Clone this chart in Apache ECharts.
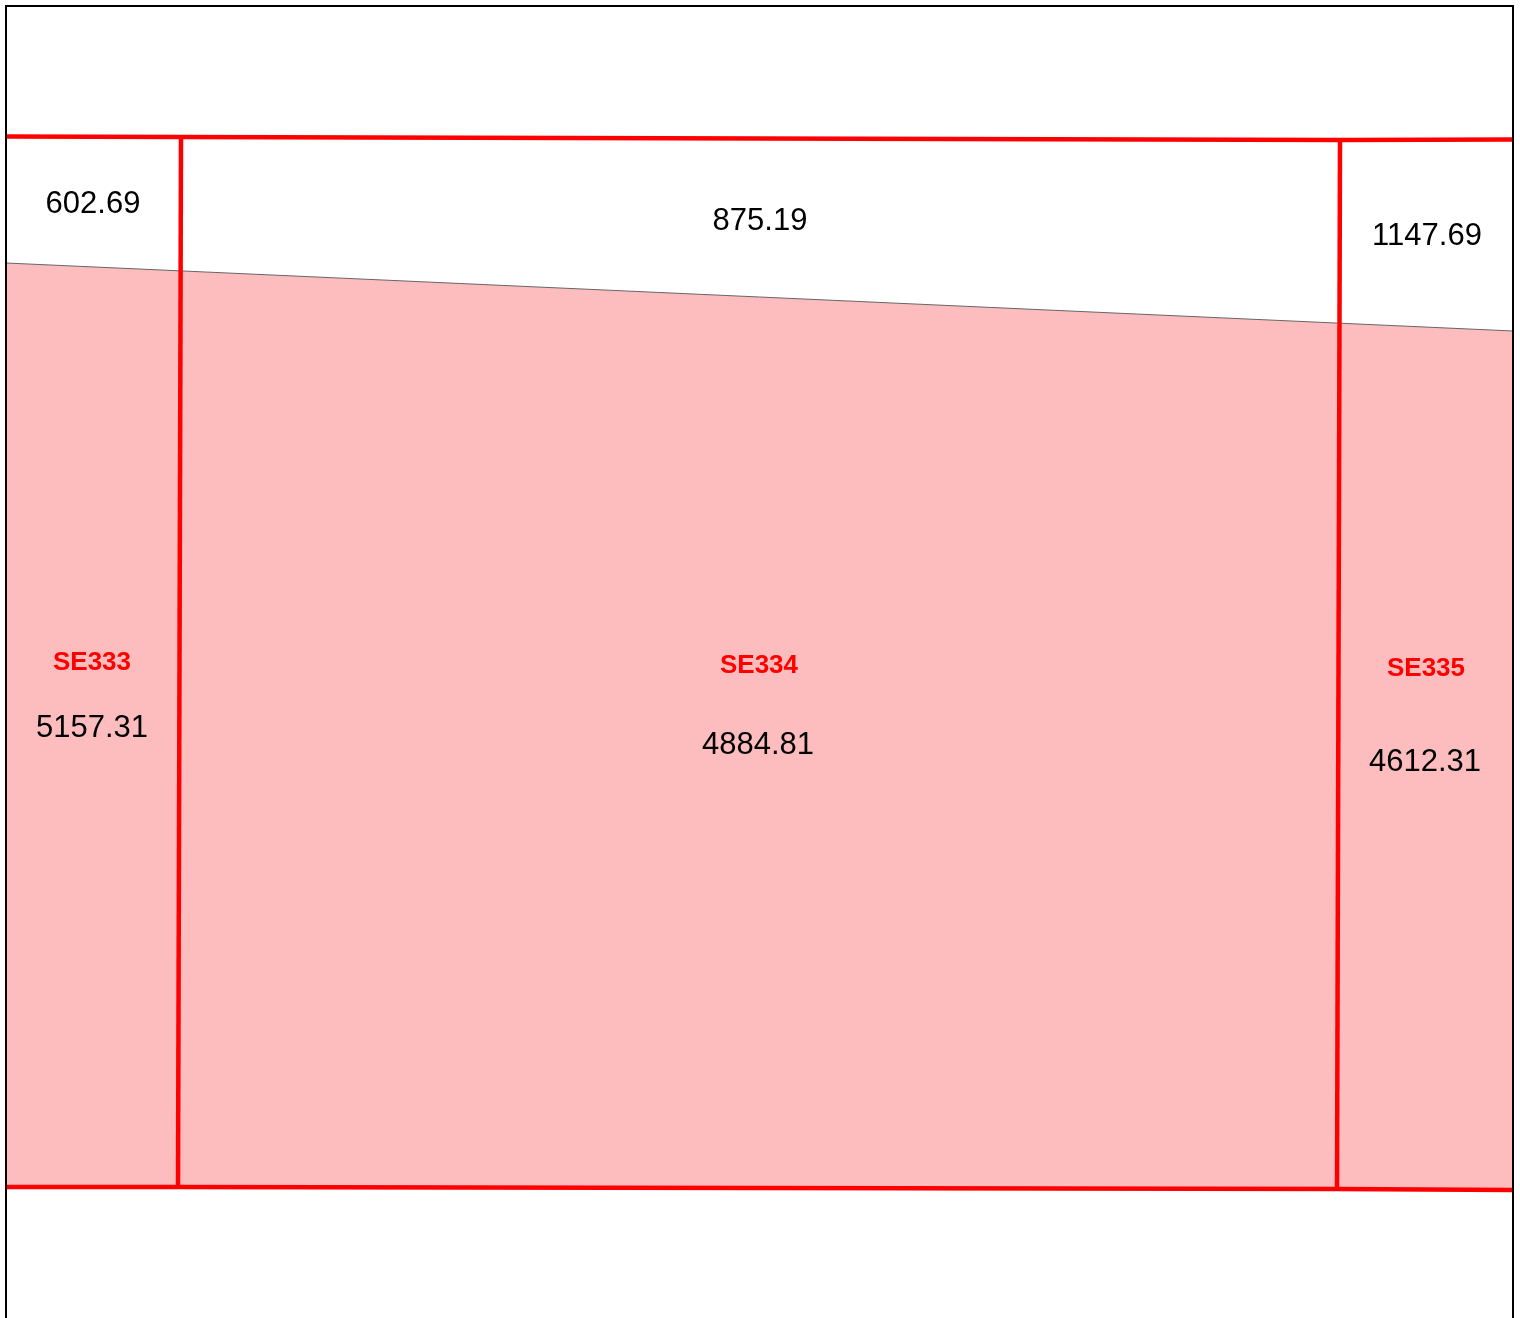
<!DOCTYPE html>
<html>
<head>
<meta charset="utf-8">
<script src="https://cdn.jsdelivr.net/npm/echarts@6/dist/echarts.min.js"></script>
<style>
  html, body { margin: 0; padding: 0; background: #fff; overflow: hidden; }
  #chartParcel { width: 1520px; height: 1318px; }
</style>
</head>
<body>
<div id="chartParcel"></div>
<script>
// 地块编号
var parcelNames = ['SE333', 'SE334', 'SE335'];
// 地块界线（红线），y 向下
var parcelTop = [[0, 130.5], [175, 131], [1334, 134], [1507, 133.5]];
var parcelBottom = [[0, 1181], [172, 1181], [1331, 1183], [1507, 1184]];
var parcelDividers = [
  [[175, 131], [172, 1181]],
  [[1334, 134], [1331, 1183]]
];
// 图框（左、上、右）
var frameLine = [[0, 1330], [0, 0], [1507, 0], [1507, 1330]];
// 分区线（斜线）
var zoneLine = [[0, 257], [1507, 325]];
// 分区线以下的填充区域
var zoneFill = [[0, 257], [1507, 325], [1507, 1184], [0, 1181]];
// 上部面积 / 下部面积
var upperArea = ['602.69', '875.19', '1147.69'];
var lowerArea = ['5157.31', '4884.81', '4612.31'];
// 标注位置
var upperLabelPos = [[87, 198], [754, 215], [1421, 230]];
var nameLabelPos = [[86, 657], [753, 660], [1420, 663]];
var lowerLabelPos = [[86, 722], [752, 739], [1419, 756]];

var chartParcel = echarts.init(document.getElementById('chartParcel'));

function toPx(api, pts) {
  return pts.map(function (p) { return api.coord(p); });
}

// 红线 / 图框 折线
function polylineSeries(lines, color, width, z) {
  return {
    type: 'custom',
    silent: true,
    z: z,
    clip: false,
    data: lines.map(function (l, i) { return i; }),
    renderItem: function (params, api) {
      return {
        type: 'polyline',
        shape: { points: toPx(api, lines[params.dataIndex]) },
        style: { fill: null, stroke: color, lineWidth: width, lineJoin: 'miter' }
      };
    }
  };
}

// 文字标注
function textSeries(positions, texts, fontSize, fontWeight, color) {
  return {
    type: 'custom',
    silent: true,
    z: 10,
    clip: false,
    data: positions.map(function (p, i) { return i; }),
    renderItem: function (params, api) {
      var pt = api.coord(positions[params.dataIndex]);
      return {
        type: 'text',
        x: pt[0],
        y: pt[1],
        style: {
          text: texts[params.dataIndex],
          fontFamily: 'Liberation Sans, Arial',
          fontSize: fontSize,
          fontWeight: fontWeight,
          fill: color,
          align: 'center',
          verticalAlign: 'middle'
        }
      };
    }
  };
}

var option = {
  animation: false,
  grid: { left: 6, right: 7, top: 6, bottom: 0, show: false },
  xAxis: { type: 'value', min: 0, max: 1507, show: false },
  yAxis: { type: 'value', min: 0, max: 1312, inverse: true, show: false },
  series: [
    {
      type: 'custom',
      silent: true,
      z: 1,
      data: [0],
      renderItem: function (params, api) {
        return {
          type: 'polygon',
          shape: { points: toPx(api, zoneFill) },
          style: { fill: '#fdbcbd', stroke: null }
        };
      }
    },
    polylineSeries([zoneLine], '#666', 1, 2),
    polylineSeries([parcelTop, parcelBottom].concat(parcelDividers), '#ff0000', 4.5, 3),
    polylineSeries([frameLine], '#000', 2, 4),
    textSeries(upperLabelPos, upperArea, 31, 'normal', '#000'),
    textSeries(nameLabelPos, parcelNames, 26, 'bold', '#ff0000'),
    textSeries(lowerLabelPos, lowerArea, 31, 'normal', '#000')
  ]
};
chartParcel.setOption(option);
</script>
</body>
</html>
